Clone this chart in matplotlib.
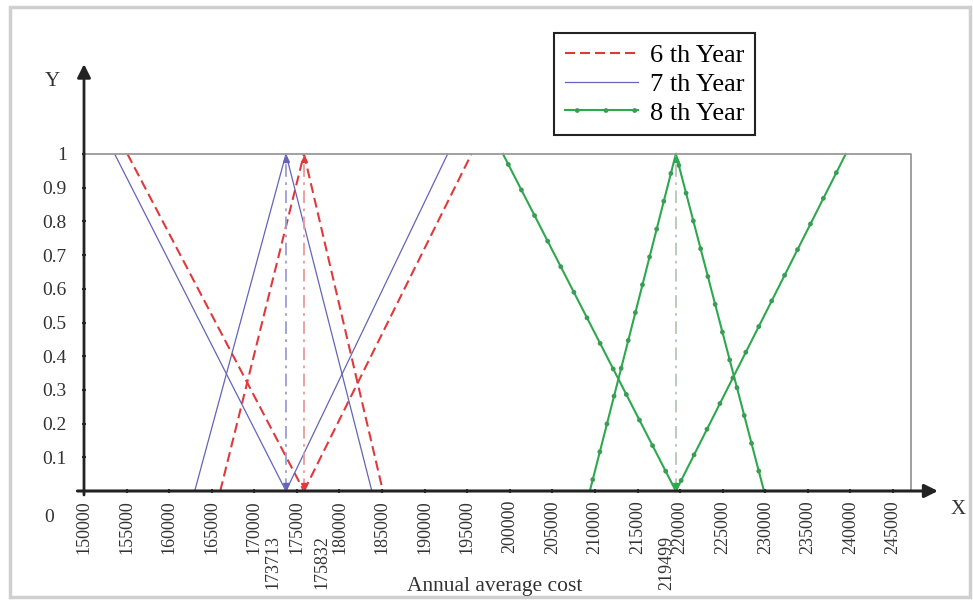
import numpy as np
import matplotlib
matplotlib.use('Agg')
import matplotlib.pyplot as plt
from matplotlib.patches import Rectangle
from matplotlib.legend_handler import HandlerTuple

plt.rcParams['font.family'] = ['Liberation Serif', 'DejaVu Serif']

# Bornes des nombres flous (a1, a2, pic, b1, b2)
years = ["6 th Year", "7 th Year", "8 th Year"]
year6 = [155100, 166000, 175832, 185100, 195500]
year7 = [153600, 163000, 173713, 183800, 192700]
year8 = [199200, 209400, 219499, 229850, 239450]
peaks = [173713, 175832, 219499]

x_ticks = list(range(150000, 250000, 5000))
y_ticks = [0.1, 0.2, 0.3, 0.4, 0.5, 0.6, 0.7, 0.8, 0.9, 1]
y_labels = ["0.1", "0.2", "0.3", "0.4", "0.5", "0.6", "0.7", "0.8", "0.9", "1"]

W, H = 973, 601
fig = plt.figure(figsize=(W / 100, H / 100), dpi=100)
ax = fig.add_axes([84 / W, (H - 491) / H, 809 / W, 337 / H])
ax.set_xlim(150000, 245000)
ax.set_ylim(0, 1)
for s in ax.spines.values():
    s.set_visible(False)

# cadre gris de l'image
fig.patches.append(Rectangle((10 / W, 4 / H), 960 / W, 590 / H, transform=fig.transFigure,
                             fill=False, edgecolor='#cfcfcf', lw=2.5))


def legs(v):
    a1, a2, m, b1, b2 = v
    return [([a1, m], [1, 0]), ([a2, m], [0, 1]), ([m, b1], [1, 0]), ([m, b2], [0, 1])]


styles = [
    dict(color='#e0393c', lw=1.5, dashes=(4.8, 2.4)),
    dict(color='#6464b8', lw=0.9),
    dict(color='#2ea84f', lw=1.5),
]
# points réguliers sur la courbe verte (motif de tirets arrondis)
dot_style = dict(color='#3a9d55', lw=3.5, linestyle=(3.5, (0.01, 5.9)),
                 dash_capstyle='round')

handles = []
for k, (v, st) in enumerate(zip([year6, year7, year8], styles)):
    for i, (xs, ys) in enumerate(legs(v)):
        ln, = ax.plot(xs, ys, clip_on=False, **st)
        if k == 2:
            dl, = ax.plot(xs, ys, clip_on=False, **dot_style)
        if i == 0:
            handles.append((ln, dl) if k == 2 else ln)

# lignes verticales aux pics
vcols = ['#9c9cd4', '#ea9a9a', '#b2c8b2']
pcols = ['#6464b8', '#e0393c', '#2ea84f']
for p, vc, pc in zip(peaks, vcols, pcols):
    ax.plot([p, p], [0, 1], color=vc, lw=1.3, linestyle=(0, (7, 3, 1.5, 3)))
    ax.plot([p], [0.985], marker='^', color=pc, markersize=5, clip_on=False)
    ax.plot([p], [0.015], marker='v', color=pc, markersize=5, clip_on=False)

# boîte grise
ax.plot([150000, 247100, 247100], [1, 1, 0], color='#9a9a9a', lw=1.3, clip_on=False)

# axes avec flèches
ax.annotate('', xy=(250600, 0), xytext=(148900, 0), annotation_clip=False,
            arrowprops=dict(arrowstyle='-|>', lw=2.2, color='#222222', mutation_scale=20))
ax.annotate('', xy=(150000, 1.275), xytext=(150000, -0.02), annotation_clip=False,
            arrowprops=dict(arrowstyle='-|>', lw=2, color='#222222', mutation_scale=20))

ax.set_xticks(x_ticks)
ax.set_xticklabels([str(t) for t in x_ticks], rotation=90, fontsize=13, color='#333333')
ax.set_yticks(y_ticks)
ax.set_yticklabels(y_labels, fontsize=14, color='#333333')
ax.tick_params(axis='x', direction='inout', length=3, width=1.5, pad=5, colors='#333333')
ax.tick_params(axis='y', direction='inout', length=3, width=1.5, pad=11, colors='#333333')

# étiquettes des pics sous l'axe
for p, dx in zip(peaks, [-9.5, 13, -6.5]):
    ax.annotate(str(p), xy=(p, 0), xytext=(dx, -32), textcoords='offset points',
                rotation=90, ha='center', va='top', fontsize=13, color='#333333',
                annotation_clip=False)

fig.text(49 / W, 1 - 517 / H, "0", fontsize=14, ha='center', va='center', color='#333333')
fig.text(52 / W, 1 - 81 / H, "Y", fontsize=15, ha='center', va='center', color='#333333')
fig.text(958 / W, 1 - 509 / H, "X", fontsize=15, ha='center', va='center', color='#333333')
fig.text(495 / W, 1 - 587 / H, "Annual average cost", fontsize=15.5, ha='center', va='center',
         color='#333333')

leg = fig.legend(handles, years, loc='upper left', bbox_to_anchor=(554 / W, 1 - 33 / H),
                 fontsize=19, frameon=True, fancybox=False, framealpha=1,
                 edgecolor='#222222', handlelength=2.8, handletextpad=0.45,
                 borderpad=0.4, labelspacing=0.2, borderaxespad=0,
                 handler_map={tuple: HandlerTuple(ndivide=1, pad=0)})
leg.get_frame().set_linewidth(1.5)

fig.savefig("out.png", dpi=100)
plt.close(fig)
